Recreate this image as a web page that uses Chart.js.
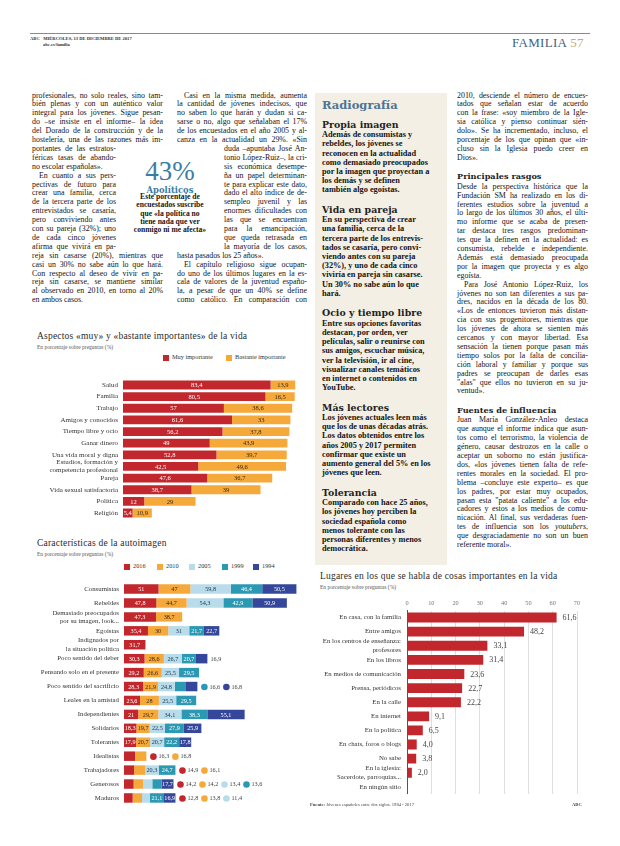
<!DOCTYPE html>
<html lang="es">
<head>
<meta charset="utf-8">
<title>Familia 57</title>
<script src="https://cdn.jsdelivr.net/npm/chart.js@4.4.1/dist/chart.umd.min.js"></script>
<style>
html,body{margin:0;padding:0;background:#fff;}
#pagina{position:relative;width:620px;height:846px;overflow:hidden;font-family:'Liberation Serif',serif;color:#151515;}
.abs{position:absolute;white-space:nowrap;}
.linea{position:absolute;white-space:nowrap;}
.cuerpo{font-size:7.9px;line-height:8.9px;}
.caja{font-size:8.3px;font-weight:bold;line-height:9.2px;}
.subCaja{font-family:'DejaVu Serif',serif;font-weight:bold;font-size:9.4px;line-height:11px;color:#222;}
.subCol{font-family:'DejaVu Serif',serif;font-weight:bold;font-size:8.2px;line-height:10px;color:#222;}
.cita{font-size:7.6px;font-weight:bold;line-height:8.3px;text-align:center;}
.tituloGraf{font-size:9.5px;color:#2a2a2a;letter-spacing:0.2px;}
.subGraf{font-size:5.5px;color:#555;}
.ley{font-size:6.3px;color:#333;}
.cuadro{position:absolute;width:6px;height:6px;}
canvas{position:absolute;}
</style>
</head>
<body>
<div id="pagina">
  <div class="abs" style="left:30px;top:33px;width:560px;height:0;border-top:1px solid #8a8a8a;"></div>
  <div class="abs" style="left:30px;top:36px;font-size:4.6px;font-weight:bold;color:#333;line-height:5.5px;">ABC&nbsp;&nbsp;&nbsp;MIÉRCOLES, 13 DE DICIEMBRE DE 2017<br><span style="padding-left:13px;">abc.es/familia</span></div>
  <div class="abs" style="left:512px;top:35px;font-size:13px;color:#3f5f7f;letter-spacing:0.3px;">FAMILIA <span style="color:#c8a679;">57</span></div>

  <div class="abs" style="left:315px;top:93px;width:132px;height:472px;background:#f3efe4;"></div>

  <div class="abs" style="left:170px;top:157px;transform:translateX(-50%);font-size:27px;color:#3b7ca3;line-height:28px;">43%</div>
  <div class="abs" style="left:170px;top:185px;transform:translateX(-50%);font-family:'DejaVu Serif',serif;font-weight:bold;font-size:8.4px;color:#3b7ca3;">Apolíticos</div>
  <div class="abs cita" style="left:170px;top:193px;transform:translateX(-50%);">Este porcentaje de<br>encuestados suscribe<br>que «la política no<br>tiene nada que ver<br>conmigo ni me afecta»</div>

  <div class="abs tituloGraf" style="left:37px;top:331px;">Aspectos «muy» y «bastante importantes» de la vida</div>
  <div class="abs subGraf" style="left:37px;top:344px;">En porcentaje sobre preguntas (%)</div>
  <div class="cuadro" style="left:163px;top:355px;background:#c1272d;"></div>
  <div class="abs ley" style="left:172px;top:353px;">Muy importante</div>
  <div class="cuadro" style="left:226px;top:355px;background:#f6a93b;"></div>
  <div class="abs ley" style="left:235px;top:353px;">Bastante importante</div>
  <canvas id="graficaAspectos" width="270" height="158" style="left:30px;top:370px;"></canvas>

  <div class="abs tituloGraf" style="left:37px;top:538px;">Características de la autoimagen</div>
  <div class="abs subGraf" style="left:37px;top:551px;">En porcentaje sobre preguntas (%)</div>
  <canvas id="graficaAutoimagen" width="275" height="241" style="left:30px;top:573px;"></canvas>

  <div class="abs tituloGraf" style="left:320px;top:571px;">Lugares en los que se habla de cosas importantes en la vida</div>
  <div class="abs subGraf" style="left:320px;top:584px;">En porcentaje sobre preguntas (%)</div>
  <canvas id="graficaLugares" width="280" height="207" style="left:310px;top:597px;"></canvas>

  <div class="abs" style="left:310px;top:802px;font-size:4.6px;color:#444;"><b>Fuente:</b> Jóvenes españoles entre dos siglos. 1984 - 2017</div>
  <div class="abs" style="left:572px;top:802px;font-size:4.6px;font-weight:bold;color:#444;">ABC</div>
</div>

<script>
// ------- datos de las graficas
const aspectos = ['Salud', 'Familia', 'Trabajo', 'Amigos y conocidos', 'Tiempo libre y ocio', 'Ganar dinero',
  'Una vida moral y digna', ['Estudios, formación y', 'competencia profesional'], 'Pareja',
  'Vida sexual satisfactoria', 'Política', 'Religión'];
const muyImportante = [83.4, 80.5, 57, 61.6, 56.2, 49, 52.8, 42.5, 47.6, 38.7, 12, 5.4];
const bastanteImportante = [13.9, 16.5, 38.6, 33, 37.8, 43.9, 39.7, 49.6, 36.7, 39, 29, 10.9];

const rasgos = ['Consumistas', 'Rebeldes', ['Demasiado preocupados', 'por su imagen, look...'], 'Egoístas',
  ['Indignados por', 'la situación política'], 'Poco sentido del deber', 'Pensando solo en el presente',
  'Poco sentido del sacrificio', 'Leales en la amistad', 'Independientes', 'Solidarios', 'Tolerantes',
  'Idealistas', 'Trabajadores', 'Generosos', 'Maduros'];
const anios = ['2016', '2010', '2005', '1999', '1994'];
const valores2016 = [51, 47.8, 47.3, 35.4, 31.7, 30.3, 29.2, 28.3, 23.6, 21, 18.3, 17.9, 16.3, 14.9, 14.2, 12.8];
const valores2010 = [47, 44.7, 38.7, 30, null, 28.6, 26.6, 21.9, 28, 29.7, 19.7, 20.7, 16.8, 16.1, 14.2, 13.8];
const valores2005 = [59.8, 54.3, null, 31, null, 26.7, 25.5, 24.8, 25.5, 34.1, 22.5, 20.7, null, 20.3, 13.4, 11.4];
const valores1999 = [46.4, 42.9, null, 21.7, null, 20.7, 29.5, 16.6, 29.5, 38.3, 27.9, 22.2, null, 24.7, 13.6, 21.1];
const valores1994 = [50.5, 50.9, null, 22.7, null, 16.9, null, 16.8, null, 55.1, 25.9, 17.8, null, null, 17.7, 16.9];
// que series llevan la cifra fuera de la barra (indice de fila -> series)
const cifrasFuera = {5: [4], 7: [3, 4], 12: [0, 1], 13: [0, 1], 14: [0, 1, 2, 3], 15: [0, 1, 2]};
const cifrasSinPunto = {5: true};

const lugares = ['En casa, con la familia', 'Entre amigos', ['En los centros de enseñanza:', 'profesores'],
  'En los libros', 'En medios de comunicación', 'Prensa, periódicos', 'En la calle', 'En internet',
  'En la política', 'En chats, foros o blogs', 'No sabe', ['En la iglesia:', 'Sacerdote, parroquias...'],
  'En ningún sitio'];
const porcentajesLugares = [61.6, 48.2, 33.1, 31.4, 23.6, 22.7, 22.2, 9.1, 6.5, 4.0, 3.8, 2.0, null];
const ticksLugares = [0, 10, 20, 30, 40, 50, 60, 70];

// ------- textos de la pagina
const columna1 = [
  'profesionales, no solo reales, sino tam-', 'bién plenas y con un auténtico valor',
  'integral para los jóvenes. Sigue pesan-', 'do –se insiste en el informe– la idea',
  'del Dorado de la construcción y de la', 'hostelería, una de las razones más im-',
  'portantes de las estratos-', 'féricas tasas de abando-', 'no escolar españolas».$',
  '>En cuanto a sus pers-', 'pectivas de futuro para', 'crear una familia, cerca',
  'de la tercera parte de los', 'entrevistados se casaría,', 'pero conviviendo antes',
  'con su pareja (32%); uno', 'de cada cinco jóvenes', 'afirma que vivirá en pa-',
  'reja sin casarse (20%), mientras que', 'casi un 30% no sabe aún lo que hará.',
  'Con respecto al deseo de vivir en pa-', 'reja sin casarse, se mantiene similar',
  'al observado en 2010, en torno al 20%', 'en ambos casos.$'
];
const columna2 = [
  '>Casi en la misma medida, aumenta', 'la cantidad de jóvenes indecisos, que',
  'no saben lo que harán y dudan si ca-', 'sarse o no, algo que señalaban el 17%',
  'de los encuestados en el año 2005 y al-', 'canza en la actualidad un 29%. «Sin',
  'duda –apuntaba José An-', 'tonio López-Ruiz–, la cri-', 'sis económica desempe-',
  'ña un papel determinan-', 'te para explicar este dato,', 'dado el alto índice de de-',
  'sempleo juvenil y las', 'enormes dificultades con', 'las que se encuentran',
  'para la emancipación,', 'que queda retrasada en', 'la mayoría de los casos,',
  'hasta pasados los 25 años».$', '>El capítulo religioso sigue ocupan-',
  'do uno de los últimos lugares en la es-', 'cala de valores de la juventud españo-',
  'la, a pesar de que un 40% se define', 'como católico. En comparación con'
];
const columna4 = [
  '2010, desciende el número de encues-', 'tados que señalan estar de acuerdo',
  'con la frase: «soy miembro de la Igle-', 'sia católica y pienso continuar sién-',
  'dolo». Se ha incrementado, incluso, el', 'porcentaje de los que opinan que «in-',
  'cluso sin la Iglesia puedo creer en', 'Dios».$',
  '#Principales rasgos',
  'Desde la perspectiva histórica que la', 'Fundación SM ha realizado en los di-',
  'ferentes estudios sobre la juventud a', 'lo largo de los últimos 30 años, el últi-',
  'mo informe que se acaba de presen-', 'tar destaca tres rasgos predominan-',
  'tes que la definen en la actualidad: es', 'consumista, rebelde e independiente.',
  'Además está demasiado preocupada', 'por la imagen que proyecta y es algo', 'egoísta.$',
  '>Para José Antonio López-Ruiz, los', 'jóvenes no son tan diferentes a sus pa-',
  'dres, nacidos en la década de los 80.', '«Los de entonces tuvieron más distan-',
  'cia con sus progenitores, mientras que', 'los jóvenes de ahora se sienten más',
  'cercanos y con mayor libertad. Esa', 'sensación la tienen porque pasan más',
  'tiempo solos por la falta de concilia-', 'ción laboral y familiar y porque sus',
  'padres se preocupan de darles esas', '"alas" que ellos no tuvieron en su ju-', 'ventud».$',
  '#Fuentes de influencia',
  'Juan María González-Anleo destaca', 'que aunque el informe indica que asun-',
  'tos como el terrorismo, la violencia de', 'género, causar destrozos en la calle o',
  'aceptar un soborno no están justifica-', 'dos, «los jóvenes tienen falta de refe-',
  'rentes morales en la sociedad. El pro-', 'blema –concluye este experto– es que',
  'los padres, por estar muy ocupados,', 'pasan esta "patata caliente" a los edu-',
  'cadores y estos a los medios de comu-', 'nicación. Al final, sus verdaderas fuen-',
  'tes de influencia son los <i>youtubers</i>,', 'que desgraciadamente no son un buen',
  'referente moral».$'
];
const radiografia = [
  '#Propia imagen',
  'Además de consumistas y', 'rebeldes, los jóvenes se', 'reconocen en la actualidad',
  'como demasiado preocupados', 'por la imagen que proyectan a', 'los demás y se definen',
  'también algo egoístas.',
  '#Vida en pareja',
  'En su perspectiva de crear', 'una familia, cerca de la', 'tercera parte de los entrevis-',
  'tados se casaría, pero convi-', 'viendo antes con su pareja', '(32%), y uno de cada cinco',
  'viviría en pareja sin casarse.', 'Un 30% no sabe aún lo que', 'hará.',
  '#Ocio y tiempo libre',
  'Entre sus opciones favoritas', 'destacan, por orden, ver', 'películas, salir o reunirse con',
  'sus amigos, escuchar música,', 'ver la televisión, ir al cine,', 'visualizar canales temáticos',
  'en internet o contenidos en', 'YouTube.',
  '#Más lectores',
  'Los jóvenes actuales leen más', 'que los de unas décadas atrás.', 'Los datos obtenidos entre los',
  'años 2005 y 2017 permiten', 'confirmar que existe un', 'aumento general del 5% en los',
  'jóvenes que leen.',
  '#Tolerancia',
  'Comparado con hace 25 años,', 'los jóvenes hoy perciben la', 'sociedad española como',
  'menos tolerante con las', 'personas diferentes y menos', 'democrática.'
];

const ROJO = '#c1272d', NARANJA = '#f6a93b', CELESTE = '#b8dcea', TURQUESA = '#2c99b3', AZUL = '#34479a';
const pagina = document.getElementById('pagina');

function ponerLinea(x, yCentro, ancho, alto, texto, clase, justificar) {
  const d = document.createElement('div');
  d.className = 'linea ' + clase;
  d.style.left = x + 'px';
  d.style.top = (yCentro - alto / 2) + 'px';
  d.style.width = ancho + 'px';
  const s = document.createElement('span');
  s.innerHTML = texto;
  d.appendChild(s);
  pagina.appendChild(d);
  const w = s.getBoundingClientRect().width;
  if (w > ancho) {
    s.style.display = 'inline-block';
    s.style.transformOrigin = '0 50%';
    s.style.transform = 'scaleX(' + (ancho / w) + ')';
  } else if (justificar) {
    d.style.textAlign = 'justify';
    d.style.textAlignLast = 'justify';
  }
  return d;
}

function columna(lineas, x, y, ancho, lh, clase, justificar, estrecho, claseSub) {
  lineas.forEach((t, i) => {
    if (t[0] === '#') {
      y += lh * 1.1;
      ponerLinea(x, y, ancho, 11, t.slice(1), claseSub, false);
      y += lh * 1.15;
      return;
    }
    let xx = x, w = ancho, just = justificar;
    if (estrecho && i >= estrecho.desde && i <= estrecho.hasta) { xx = estrecho.x; w = estrecho.ancho; }
    if (t[0] === '>') { t = t.slice(1); xx += 7; w -= 7; }
    if (t.endsWith('$')) { t = t.slice(0, -1); just = false; }
    ponerLinea(xx, y, w, lh, t, clase, just);
    y += lh;
  });
}

columna(columna1, 32, 96, 131, 8.9, 'cuerpo', true, {desde: 6, hasta: 17, x: 32, ancho: 84});
columna(columna2, 177, 96, 130, 8.9, 'cuerpo', true, {desde: 6, hasta: 17, x: 224, ancho: 83});
columna(columna4, 457, 96, 131, 8.9, 'cuerpo', true, null, 'subCol');
const cabeceraCaja = ponerLinea(322, 107, 120, 14, 'Radiografía', 'subCaja', false);
cabeceraCaja.style.color = '#4d7497';
cabeceraCaja.style.fontSize = '11.5px';
columna(radiografia, 322, 114, 122, 9.2, 'caja', false, null, 'subCaja');

// leyenda de la autoimagen
const colAnios = [ROJO, NARANJA, CELESTE, TURQUESA, AZUL];
const xLeyenda = [124, 157, 189, 222, 253];
anios.forEach((a, i) => {
  const c = document.createElement('div');
  c.className = 'cuadro';
  c.style.left = xLeyenda[i] + 'px'; c.style.top = '564px'; c.style.background = colAnios[i];
  pagina.appendChild(c);
  const t = document.createElement('div');
  t.className = 'abs ley';
  t.style.left = (xLeyenda[i] + 9) + 'px'; t.style.top = '562px';
  t.textContent = a;
  pagina.appendChild(t);
});

// ------- plugin para las cifras
const coma = v => String(v).replace('.', ',');
const pluginEtiquetas = {
  id: 'etiquetas',
  afterDatasetsDraw(chart, args, op) {
    if (!op || !op.modo) return;
    const ctx = chart.ctx;
    const fuera = op.fuera || {};
    const finBarra = [];
    ctx.save();
    ctx.font = op.fuente;
    ctx.textBaseline = 'middle';
    chart.data.datasets.forEach((ds, i) => {
      chart.getDatasetMeta(i).data.forEach((el, j) => {
        const v = ds.data[j];
        if (v == null) return;
        finBarra[j] = Math.max(finBarra[j] || 0, el.x);
        if (op.modo === 'final') {
          ctx.fillStyle = op.color;
          ctx.textAlign = 'left';
          ctx.fillText(op.formato(v), el.x + 6, el.y + 0.5);
          return;
        }
        if ((fuera[j] || []).includes(i)) return;
        ctx.fillStyle = op.colores[i];
        ctx.textAlign = 'center';
        ctx.fillText(coma(v), (el.x + el.base) / 2, el.y + 0.5);
      });
    });
    Object.keys(fuera).forEach(k => {
      const j = +k;
      const y = chart.getDatasetMeta(0).data[j].y + 0.5;
      let x = finBarra[j] + 7;
      fuera[j].forEach(i => {
        const v = chart.data.datasets[i].data[j];
        ctx.textAlign = 'left';
        if (op.sinPunto && op.sinPunto[j]) {
          ctx.fillStyle = '#444';
          ctx.fillText(coma(v), finBarra[j] + 3, y);
          return;
        }
        ctx.fillStyle = chart.data.datasets[i].backgroundColor;
        ctx.beginPath();
        ctx.arc(x, y, 3.3, 0, Math.PI * 2);
        ctx.fill();
        ctx.fillStyle = '#444';
        ctx.fillText(coma(v), x + 5, y);
        x += 22;
      });
    });
    ctx.restore();
  }
};

Chart.defaults.font.family = "'Liberation Serif', serif";
Chart.defaults.animation = false;

new Chart(document.getElementById('graficaAspectos'), {
  type: 'bar',
  data: {
    labels: aspectos,
    datasets: [
      {label: 'Muy importante', data: muyImportante, backgroundColor: ROJO},
      {label: 'Bastante importante', data: bastanteImportante, backgroundColor: NARANJA}
    ]
  },
  options: {
    indexAxis: 'y', responsive: false,
    layout: {padding: 0},
    datasets: {bar: {categoryPercentage: 1, barPercentage: 0.76}},
    plugins: {
      legend: {display: false}, tooltip: {enabled: false},
      etiquetas: {modo: 'dentro', fuente: "6.5px 'Liberation Serif'", colores: ['#fff', '#3a2a10']}
    },
    scales: {
      x: {stacked: true, display: false, min: 0, max: 100},
      y: {
        stacked: true,
        grid: {display: false, drawTicks: false}, border: {display: false},
        ticks: {font: {size: 7}, color: '#333', padding: 5, autoSkip: false},
        afterFit(s) { s.width = 93; }
      }
    }
  },
  plugins: [pluginEtiquetas]
});

new Chart(document.getElementById('graficaAutoimagen'), {
  type: 'bar',
  data: {
    labels: rasgos,
    datasets: [
      {label: anios[0], data: valores2016, backgroundColor: ROJO},
      {label: anios[1], data: valores2010, backgroundColor: NARANJA},
      {label: anios[2], data: valores2005, backgroundColor: CELESTE},
      {label: anios[3], data: valores1999, backgroundColor: TURQUESA},
      {label: anios[4], data: valores1994, backgroundColor: AZUL}
    ]
  },
  options: {
    indexAxis: 'y', responsive: false,
    layout: {padding: {right: 5}},
    datasets: {bar: {categoryPercentage: 1, barPercentage: 0.68}},
    plugins: {
      legend: {display: false}, tooltip: {enabled: false},
      etiquetas: {modo: 'dentro', fuente: "6.2px 'Liberation Serif'",
        colores: ['#fff', '#3a2a10', '#1e3350', '#fff', '#fff'],
        fuera: cifrasFuera, sinPunto: cifrasSinPunto}
    },
    scales: {
      x: {stacked: true, display: false, min: 0, max: 260},
      y: {
        stacked: true,
        grid: {display: false, drawTicks: false}, border: {display: false},
        ticks: {font: {size: 6.8}, color: '#333', padding: 5, autoSkip: false},
        afterFit(s) { s.width = 94; }
      }
    }
  },
  plugins: [pluginEtiquetas]
});

new Chart(document.getElementById('graficaLugares'), {
  type: 'bar',
  data: {
    labels: lugares,
    datasets: [{label: 'Lugares', data: porcentajesLugares, backgroundColor: ROJO}]
  },
  options: {
    indexAxis: 'y', responsive: false,
    layout: {padding: {right: 13}},
    datasets: {bar: {categoryPercentage: 1, barPercentage: 0.7}},
    plugins: {
      legend: {display: false}, tooltip: {enabled: false},
      etiquetas: {modo: 'final', fuente: "8px 'Liberation Serif'", color: '#444',
        formato: v => v.toFixed(1).replace('.', ',')}
    },
    scales: {
      x: {
        position: 'top', min: 0, max: 70,
        afterBuildTicks(s) { s.ticks = ticksLugares.map(v => ({value: v})); },
        grid: {color: '#dedede', drawTicks: false}, border: {display: false},
        ticks: {font: {size: 6.3}, color: '#777', padding: 3},
        afterFit(s) { s.height = 13.5; }
      },
      y: {
        grid: {display: false, drawTicks: false},
        border: {display: true, color: '#555', width: 1},
        ticks: {font: {size: 6.8}, color: '#333', padding: 6, autoSkip: false},
        afterFit(s) { s.width = 97; }
      }
    }
  },
  plugins: [pluginEtiquetas]
});
</script>
</body>
</html>
